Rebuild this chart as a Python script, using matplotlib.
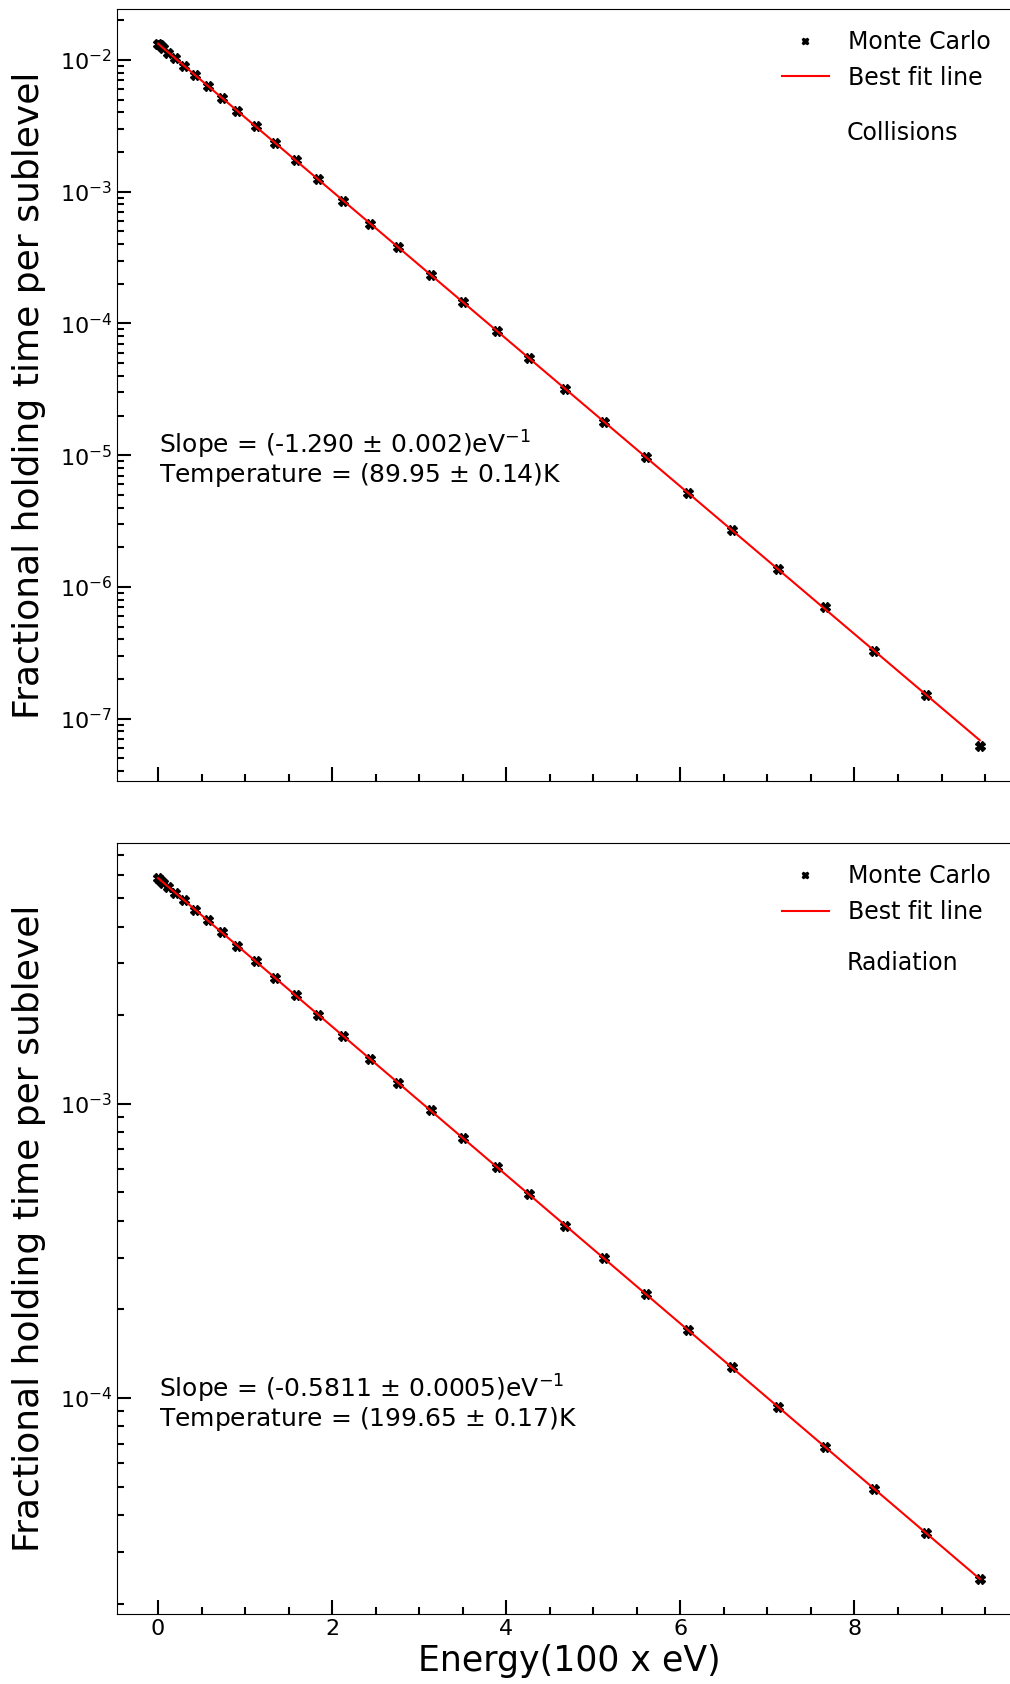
import numpy as np
import matplotlib.pyplot as plt
from matplotlib.ticker import MultipleLocator

# energies of the sublevels, in units of 100 eV
energy = [0.0, 0.02, 0.06, 0.12, 0.20, 0.30, 0.43, 0.57, 0.73, 0.91,
          1.12, 1.34, 1.58, 1.84, 2.13, 2.44, 2.76, 3.13, 3.50, 3.89,
          4.26, 4.68, 5.12, 5.60, 6.09, 6.59, 7.12, 7.66, 8.23, 8.82, 9.44]

# Monte Carlo holding time fractions
mc_collisions = [1.33e-2, 1.296e-2, 1.231e-2, 1.139e-2, 1.028e-2, 9.03e-3,
                 7.64e-3, 6.38e-3, 5.19e-3, 4.11e-3, 3.14e-3, 2.36e-3,
                 1.73e-3, 1.24e-3, 8.55e-4, 5.71e-4, 3.78e-4, 2.35e-4,
                 1.455e-4, 8.80e-5, 5.50e-5, 3.18e-5, 1.80e-5, 9.70e-6,
                 5.16e-6, 2.70e-6, 1.366e-6, 7.0e-7, 3.26e-7, 1.52e-7, 6.2e-8]
mc_radiation = [5.85e-3, 5.78e-3, 5.65e-3, 5.456e-3, 5.208e-3, 4.914e-3,
                4.557e-3, 4.20e-3, 3.828e-3, 3.447e-3, 3.051e-3, 2.685e-3,
                2.336e-3, 2.008e-3, 1.697e-3, 1.417e-3, 1.176e-3, 9.49e-4,
                7.65e-4, 6.10e-4, 4.93e-4, 3.857e-4, 2.986e-4, 2.259e-4,
                1.699e-4, 1.271e-4, 9.34e-5, 6.83e-5, 4.90e-5, 3.477e-5, 2.43e-5]

# fit results: amplitude, slope, slope error, temperature, temperature error
fit_collisions = (1.33e-2, -1.290, 0.002, 89.95, 0.14)
fit_radiation = (5.85e-3, -0.5811, 0.0005, 199.65, 0.17)


def draw_panel(ax, y, fit, name, slope_fmt, text_y):
    amp, slope, dslope, temp, dtemp = fit
    x = np.array(energy)
    ax.plot(x, y, "X", color="black", markersize=7, label="Monte Carlo")
    ax.plot(x, amp * np.exp(slope * x), color="red", lw=1.5, label="Best fit line")
    ax.set_yscale("log")
    ax.legend(loc="upper right", frameon=False, fontsize=17, markerscale=0.7,
              bbox_to_anchor=(0.99, 1.0), handletextpad=0.8)
    ax.text(0.8075, 1 - (text_y), name, transform=ax.transAxes, fontsize=17,
            va="center", ha="left")
    label = ("Slope = (" + slope_fmt.format(slope) + " $\\pm$ "
             + slope_fmt.format(dslope) + ")eV$^{-1}$\n"
             + "Temperature = ({:.2f} $\\pm$ {:.2f})K".format(temp, dtemp))
    return label


fig, (ax1, ax2) = plt.subplots(2, 1, sharex=True, figsize=(10.1, 16.84), dpi=100)
ax1.set_position([0.1158, 0.5362, 0.895, 0.4587])
ax2.set_position([0.1158, 0.04157, 0.895, 0.4578])

txt1 = draw_panel(ax1, mc_collisions, fit_collisions, "Collisions", "{:.3f}", 0.161)
txt2 = draw_panel(ax2, mc_radiation, fit_radiation, "Radiation", "{:.4f}", 0.156)
ax1.text(0.0465, 0.417, txt1, transform=ax1.transAxes, fontsize=18,
         va="center", linespacing=1.0)
ax2.text(0.0465, 0.274, txt2, transform=ax2.transAxes, fontsize=18,
         va="center", linespacing=1.0)

for ax in (ax1, ax2):
    ax.xaxis.set_major_locator(MultipleLocator(2))
    ax.xaxis.set_minor_locator(MultipleLocator(0.5))
    ax.tick_params(which="both", direction="in", top=False, right=False,
                   labelsize=16)
    ax.tick_params(which="major", length=10, width=1.5)
    ax.tick_params(which="minor", length=5, width=1.5)
    ax.set_ylabel("Fractional holding time per sublevel", fontsize=26)
    ax.yaxis.set_label_coords(-0.078, 0.5)

ax2.set_xlabel("Energy(100 x eV)", fontsize=25)

plt.savefig("out.png", dpi=100)
